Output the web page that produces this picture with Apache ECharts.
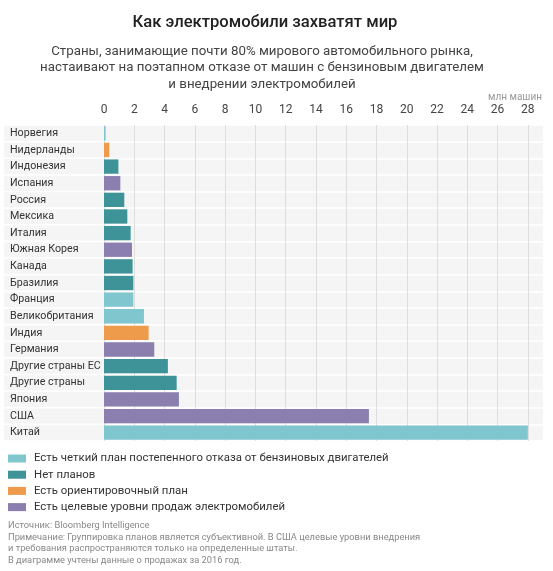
<!DOCTYPE html>
<html><head><meta charset="utf-8">
<script src="https://cdn.jsdelivr.net/npm/echarts@6/dist/echarts.min.js"></script>
<style>html,body{margin:0;padding:0;background:#fff}#c{width:553px;height:571px}</style>
</head><body><div id="c"></div>
<script>
const countries = ['Норвегия','Нидерланды','Индонезия','Испания','Россия','Мексика','Италия','Южная Корея','Канада','Бразилия','Франция','Великобритания','Индия','Германия','Другие страны ЕС','Другие страны','Япония','США','Китай'];
const sales = [0.11,0.35,0.95,1.08,1.34,1.54,1.76,1.85,1.89,1.94,1.94,2.64,2.95,3.32,4.22,4.8,4.95,17.5,28.0];
// plan group index into planNames
const planGroup = [0,2,1,3,1,1,1,3,1,1,0,0,2,3,1,1,3,3,0];
const planNames = ['Есть четкий план постепенного отказа от бензиновых двигателей','Нет планов','Есть ориентировочный план','Есть целевые уровни продаж электромобилей'];
const planColors = ['#80c6ce','#3d9397','#ee9b4c','#8a7faf'];

const font = 'Roboto, "Noto Sans", sans-serif';
const chart = echarts.init(document.getElementById('c'));
const series = planNames.map((name, g) => ({
  name, type: 'bar', stack: 'all', barWidth: '86%',
  itemStyle: {color: planColors[g]},
  data: sales.map((v, i) => planGroup[i] === g ? v : 0)
}));
chart.setOption({
  animation: false,
  textStyle: {fontFamily: font},
  grid: {left: 104, right: 10, top: 125, height: 316},
  xAxis: {
    type: 'value', position: 'top', min: 0, max: 29, interval: 2,
    axisLine: {show: false}, axisTick: {show: false},
    axisLabel: {color: '#444', fontSize: 12, margin: 9, showMaxLabel: false, fontFamily: font},
    splitLine: {show: true, showMaxLine: false, lineStyle: {color: '#dedede', width: 1}}
  },
  yAxis: {
    type: 'category', inverse: true, data: countries,
    axisLine: {show: false}, axisTick: {show: false},
    axisLabel: {color: '#333', fontSize: 10.7, align: 'left', margin: 100, width: 94, height: 15,
      lineHeight: 15, padding: [0,0,0,6], backgroundColor: '#f5f5f5', fontFamily: font},
    splitArea: {show: true, areaStyle: {color: ['#f5f5f5']}},
    splitLine: {show: true, lineStyle: {color: '#ffffff', width: 1.5}}
  },
  legend: {
    orient: 'vertical', left: 3, top: 448, itemWidth: 18, itemHeight: 8, itemGap: 5.2,
    icon: 'rect', textStyle: {color: '#333', fontSize: 11.4, fontFamily: font, padding: [0,0,0,3]},
    data: planNames
  },
  series,
  graphic: [
    {type: 'text', x: 265, y: 14, style: {text: 'Как электромобили захватят мир', font: '500 16.6px ' + font, fill: '#222', align: 'center'}},
    {type: 'text', x: 262, y: 43, style: {text: 'Страны, занимающие почти 80% мирового автомобильного рынка,\nнастаивают на поэтапном отказе от машин с бензиновым двигателем\nи внедрении электромобилей', font: '13.3px ' + font, fill: '#444', align: 'center', lineHeight: 16.5}},
    {type: 'text', x: 542, y: 92, style: {text: 'млн машин', font: '10px ' + font, fill: '#999', align: 'right'}},
    {type: 'text', x: 8, y: 520, style: {text: 'Источник: Bloomberg Intelligence', font: '9.3px ' + font, fill: '#888', lineHeight: 11.5}},
    {type: 'text', x: 8, y: 532, style: {text: 'Примечание: Группировка планов является субъективной. В США целевые уровни внедрения\nи требования распространяются только на определенные штаты.\nВ диаграмме учтены данные о продажах за 2016 год.', font: '9.3px ' + font, fill: '#888', lineHeight: 11.3}}
  ]
});
</script></body></html>
